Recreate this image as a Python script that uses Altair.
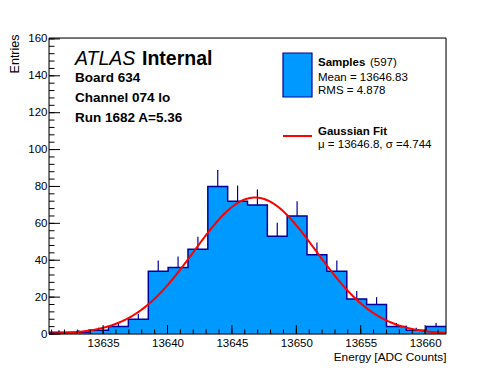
import altair as alt
import pandas as pd

# ---------------- data ----------------
bin_edges = [13630.80, 13632.34, 13633.88, 13635.42, 13636.96, 13638.51, 13640.05,
             13641.59, 13643.13, 13644.67, 13646.21, 13647.75, 13649.29, 13650.83,
             13652.37, 13653.92, 13655.46, 13657.00, 13658.54, 13660.08, 13661.62]
counts = [1, 1, 2, 4, 8, 34, 36, 46, 80, 72, 70, 53, 64, 43, 34, 19, 16, 4, 2, 4]

x_major_ticks = [13635, 13640, 13645, 13650, 13655, 13660]
x_minor_ticks = list(range(13631, 13662))
y_major_ticks = [0, 20, 40, 60, 80, 100, 120, 140, 160]
y_minor_ticks = list(range(0, 161, 4))

fit_mu = 13646.8
fit_sigma = 4.744
fit_amplitude = 74.0

FONT = "Liberation Sans"
W, H = 397, 296
FILL = "#0099ff"
LINE = "#000099"

xs = alt.Scale(domain=[bin_edges[0], bin_edges[-1]], nice=False, zero=False)
ys = alt.Scale(domain=[0, 160.5], nice=False, zero=False)

hist_df = pd.DataFrame({"lo": bin_edges[:-1], "hi": bin_edges[1:], "count": counts})
step_df = pd.DataFrame({"edge": bin_edges, "count": counts + [counts[-1]]})
one = pd.DataFrame({"a": [0]})

x_axis = alt.Axis(values=x_major_ticks, format="d", ticks=False, domain=False, grid=False,
                  labelOverlap=False, labelFlush=False,
                  labelFont=FONT, labelFontSize=11.5, labelColor="black", labelPadding=3,
                  title="Energy [ADC Counts]", titleFont=FONT, titleFontSize=11.8,
                  titleFontWeight="normal", titleColor="black", titleAnchor="end",
                  titleAlign="right", titleX=W, titleY=26.5, titleBaseline="alphabetic")
y_axis = alt.Axis(values=y_major_ticks, format="d", ticks=False, domain=False, grid=False,
                  labelOverlap=False, labelFlush=False,
                  labelFont=FONT, labelFontSize=11.5, labelColor="black", labelPadding=2,
                  title="Entries", titleFont=FONT, titleFontSize=12.5,
                  titleFontWeight="normal", titleColor="black", titleAngle=270,
                  titleAlign="right", titleAnchor="end", titleX=-31, titleY=-4,
                  titleBaseline="alphabetic")


def X(field):
    return alt.X(field, scale=xs, axis=x_axis)


def Y(field):
    return alt.Y(field, scale=ys, axis=y_axis)


fill_area = alt.Chart(step_df).mark_area(interpolate="step-after", color=FILL).encode(
    x=X("edge:Q"), y=Y("count:Q"))

errs = alt.Chart(hist_df).transform_filter("datum.count > 0").transform_calculate(
    center="(datum.lo + datum.hi) / 2",
    top="datum.count + sqrt(datum.count)",
).mark_rule(color=LINE, strokeWidth=1.2).encode(
    x=X("center:Q"), y=Y("count:Q"), y2="top:Q")

outline = alt.Chart(step_df).mark_line(interpolate="step-after", color=LINE,
                                       strokeWidth=1.5).encode(
    x=X("edge:Q"), y=Y("count:Q"))

fit = alt.Chart(alt.sequence(bin_edges[0], bin_edges[-1], 0.05, as_="e")).transform_calculate(
    g=f"{fit_amplitude} * exp(-0.5 * pow((datum.e - {fit_mu}) / {fit_sigma}, 2))"
).mark_line(color="#ff0000", strokeWidth=2).encode(
    x=X("e:Q"), y=Y("g:Q"))

xmaj = alt.Chart(pd.DataFrame({"v": x_major_ticks})).mark_rule(color="black").encode(
    x=X("v:Q"), y=alt.value(H), y2=alt.value(H - 9))
xmin = alt.Chart(pd.DataFrame({"v": x_minor_ticks})).mark_rule(color="black").encode(
    x=X("v:Q"), y=alt.value(H), y2=alt.value(H - 4.5))
ymaj = alt.Chart(pd.DataFrame({"v": y_major_ticks})).mark_rule(color="black").encode(
    y=Y("v:Q"), x=alt.value(0), x2=alt.value(11))
ymin = alt.Chart(pd.DataFrame({"v": y_minor_ticks})).mark_rule(color="black").encode(
    y=Y("v:Q"), x=alt.value(0), x2=alt.value(5.5))

frame = alt.Chart(one).mark_rect(fillOpacity=0, stroke="black", strokeWidth=1).encode(
    x=alt.value(0), x2=alt.value(W), y=alt.value(0), y2=alt.value(H))


def txt(s, x, y, size=11.5, weight="normal", style="normal"):
    return alt.Chart(one).mark_text(align="left", baseline="alphabetic", font=FONT,
                                    fontSize=size, fontWeight=weight, fontStyle=style,
                                    color="black").encode(
        x=alt.value(x), y=alt.value(y), text=alt.value(s))


texts = [
    txt("ATLAS", 26, 27, 19.5, "normal", "italic"),
    txt("Internal", 93, 27, 19.5, "bold"),
    txt("Board 634", 26, 43.5, 13.5, "bold"),
    txt("Channel 074 lo", 26, 64, 13.5, "bold"),
    txt("Run 1682 A=5.36", 26, 83.5, 13.5, "bold"),
    txt("Samples", 269, 28, 11.5, "bold"),
    txt("(597)", 321, 28, 11.5),
    txt("Mean = 13646.83", 269, 42.5, 11.5),
    txt("RMS = 4.878", 269, 56, 11.5),
    txt("Gaussian Fit", 269, 96.5, 11.5, "bold"),
    txt("\u03bc = 13646.8, \u03c3 =4.744", 269, 109.5, 11.5),
]

leg_box = alt.Chart(one).mark_rect(fill=FILL, stroke=LINE, strokeWidth=1.2).encode(
    x=alt.value(234), x2=alt.value(263), y=alt.value(15), y2=alt.value(59))
leg_line = alt.Chart(one).mark_rule(color="#ff0000", strokeWidth=2).encode(
    x=alt.value(234), x2=alt.value(263), y=alt.value(98))

chart = alt.layer(fill_area, errs, outline, fit, xmaj, xmin, ymaj, ymin, frame,
                  leg_box, leg_line, *texts).properties(
    width=W, height=H,
    autosize=alt.AutoSizeParams(type="none"),
    padding={"left": 41, "top": 30, "right": 42, "bottom": 30},
).configure_view(stroke=None).configure_axis(labelOverlap=False).configure(background="white")

chart.save("out.html", embed_options={"renderer": "svg", "actions": False})
